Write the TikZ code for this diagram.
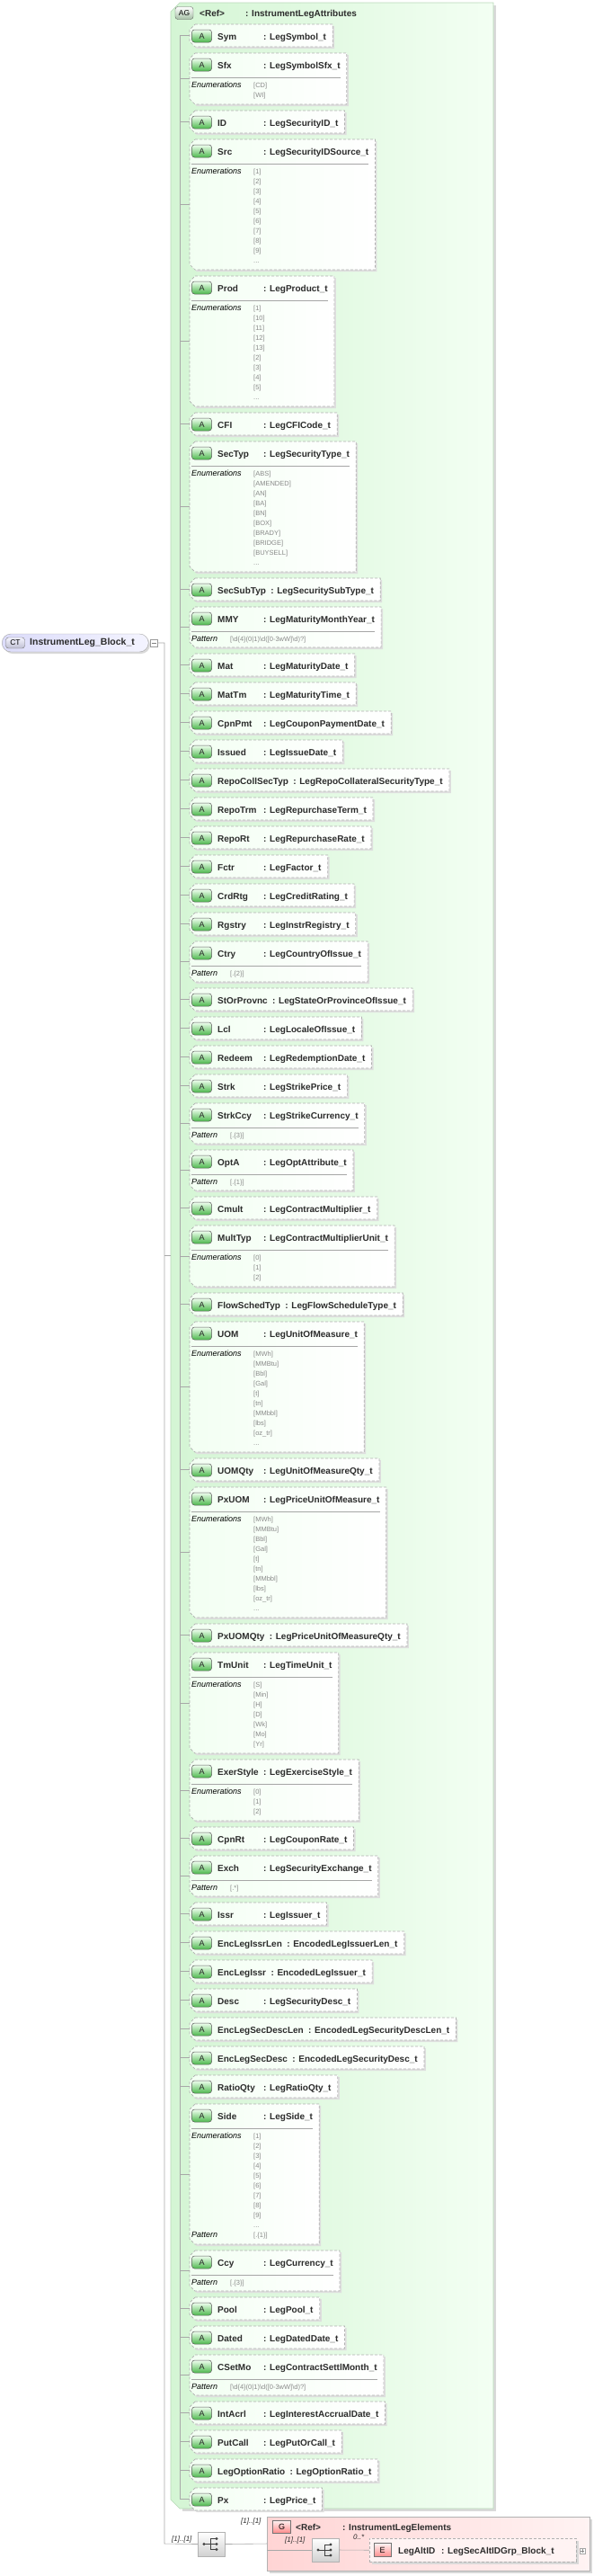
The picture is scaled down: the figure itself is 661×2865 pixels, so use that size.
\documentclass[tikz,border=0pt]{standalone}
\usepackage{fontspec}
\setmainfont{Liberation Sans}
\usetikzlibrary{calc,shadings}
\pgfdeclarelayer{grp}\pgfdeclarelayer{shad}\pgfdeclarelayer{boxl}
\pgfsetlayers{grp,shad,boxl,main}
\definecolor{txt}{HTML}{2B2B2B}
\definecolor{envc}{HTML}{8A8A8A}
\definecolor{lgray}{HTML}{A8A8A8}
\definecolor{dgray}{HTML}{B0B0B0}
\definecolor{grpl}{HTML}{D4F5D4}
\definecolor{grpr}{HTML}{F3FFF3}
\definecolor{grpb}{HTML}{B8D8B8}
\definecolor{redl}{HTML}{FFD4D4}
\definecolor{redr}{HTML}{FFF3F3}
\definecolor{ctl}{HTML}{DCDCFA}
\definecolor{ctr}{HTML}{F4F4FF}
\newcommand\nl{\\{}}
\newcommand\Y[1]{{-(#1)*1pt}}
\tikzset{
 nm/.style={font=\fontsize{10}{12}\selectfont\bfseries, text=txt, inner sep=0pt},
 enumv/.style={font=\fontsize{7.5}{11}\selectfont, text=envc, inner sep=0pt, align=left},
 lbl/.style={font=\fontsize{9}{11}\selectfont\itshape, text=black, inner sep=0pt},
 card/.style={font=\fontsize{8}{10}\selectfont\itshape, text=txt, inner sep=0pt},
 conn/.style={draw=lgray, line width=0.6pt},
 dbox/.style={draw=dgray, line width=0.7pt, dash pattern=on 3pt off 2pt, left color=green!5, right color=white},
 sbox/.style={fill=black!13, draw=none},
 aicon/.style={minimum width=22pt, minimum height=14pt, inner sep=0pt, rounded corners=3pt, draw=black!65, line width=0.5pt, top color=green!6, bottom color=green!60!black!70, font=\fontsize{9}{10}\selectfont, text=black!85},
 seqicon/.style={minimum width=30pt, minimum height=27pt, inner sep=0pt, draw=black!30, top color=white, bottom color=black!18},
}
\newcounter{ai}
\xdef\ty{27}
% #1 name #2 type #3 height #4 content #5 separator(1/0)
\newcommand\attrbox[5]{%
 \stepcounter{ai}\edef\id{a\arabic{ai}}%
 \pgfmathsetmacro\T{\ty}\pgfmathsetmacro\H{#3}%
 \node[nm,anchor=base west] (\id n) at (242pt,\Y{\T+17}) {#1};
 \path let \p1=(\id n.east) in node[nm,anchor=base west] (\id t) at ({max(\x1+5pt,293pt)},\Y{\T+17}) {: #2};
 #4%
 \path let \p1=(\id t.east), \p2=(\id c.east), \n1={max(\x1,\x2)+7pt} in coordinate (\id R) at (\n1,\Y{\T});
 \begin{pgfonlayer}{shad}
 \path let \p1=(\id R) in [sbox] (219pt,\Y{\T+2}) -- ({\x1+2pt},\Y{\T+2}) -- ({\x1+2pt},\Y{\T+\H+2}) -- (219pt,\Y{\T+\H+2}) -- (213pt,\Y{\T+\H-4}) -- (213pt,\Y{\T+8}) -- cycle;
 \end{pgfonlayer}
 \begin{pgfonlayer}{boxl}
 \path let \p1=(\id R) in [dbox] (217pt,\Y{\T}) -- (\x1,\Y{\T}) -- (\x1,\Y{\T+\H}) -- (217pt,\Y{\T+\H}) -- (211pt,\Y{\T+\H-6}) -- (211pt,\Y{\T+6}) -- cycle;
 \end{pgfonlayer}
 \ifnum#5=1
 \path let \p1=(\id R) in [draw=black!35, line width=0.6pt] (213pt,\Y{\T+27}) -- ({\x1-7pt},\Y{\T+27});
 \fi
 \node[aicon] (\id i) at (224.5pt,\Y{\T+13}) {A};
 \coordinate (\id L) at (211pt,\Y{\T+\H/2});
 \draw[conn] (\id L) -- ++(-11pt,0);
 \pgfmathsetmacro\nt{\T+\H+7}\xdef\ty{\nt}%
}
\newcommand\simple[2]{\attrbox{#1}{#2}{25}{\coordinate (\id c) at (\id t.east);}{0}}
\newcommand\enumb[4]{\attrbox{#1}{#2}{46+(#3-1)*11}{%
 \node[lbl,anchor=base west] at (213pt,\Y{\T+38}) {Enumerations};
 \node[enumv,anchor=north west] (\id c) at (282pt,\Y{\T+32.5}) {#4};}{1}}
\newcommand\patt[3]{\attrbox{#1}{#2}{45}{%
 \node[lbl,anchor=base west] at (213pt,\Y{\T+38}) {Pattern};
 \node[enumv,anchor=base west] (\id c) at (256pt,\Y{\T+38}) {#3};}{1}}
\newcommand\sidebox[3]{\attrbox{#1}{#2}{156}{%
 \node[lbl,anchor=base west] at (213pt,\Y{\T+38}) {Enumerations};
 \node[enumv,anchor=north west] (\id c) at (282pt,\Y{\T+32.5}) {#3};
 \node[lbl,anchor=base west] at (213pt,\Y{\T+148}) {Pattern};
 \node[enumv,anchor=base west] (\id p) at (282pt,\Y{\T+148}) {[.\{1\}]};}{1}}
\newcommand\seqsym[1]{%
 \fill[black!75] ($(#1)+(-8pt,0)$) circle (1.6pt);
 \draw[black!75, line width=0.8pt] ($(#1)+(-8pt,0)$) -- ($(#1)+(-1pt,0)$);
 \draw[black!75, line width=0.8pt] ($(#1)+(-1pt,6pt)$) -- ($(#1)+(-1pt,-6pt)$);
 \foreach \dy in {6,0,-6}{\draw[black!75, line width=0.8pt] ($(#1)+(-1pt,\dy pt)$) -- ($(#1)+(5pt,\dy pt)$);
 \fill[black!75] ($(#1)+(6pt,\dy pt)$) circle (1.6pt);}}
\newcommand\pmmy{[\textbackslash d\{4\}(0|1)\textbackslash d([0-3wW]\textbackslash d)?]}
\begin{document}
\begin{tikzpicture}[x=1pt,y=1pt]
\useasboundingbox (0,0) rectangle (661pt,-2865pt);
% attribute group
\begin{pgfonlayer}{grp}
\fill[black!15] (203pt,-6pt) -- (552pt,-6pt) -- (552pt,-2793pt) -- (203pt,-2793pt) -- cycle;
\path[draw=grpb, line width=0.6pt, left color=grpl, right color=grpr] (200pt,-3pt) -- (549pt,-3pt) -- (549pt,-2790pt) -- (200pt,-2790pt) -- (190pt,-2780pt) -- (190pt,-13pt) -- cycle;
\end{pgfonlayer}
\node[minimum width=20pt, minimum height=14pt, inner sep=0pt, rounded corners=3pt, draw=black!60, top color=white, bottom color=green!30!black!35, font=\fontsize{8.5}{10}\selectfont] (agi) at (205pt,-14.5pt) {AG};
\node[nm, anchor=base west] (agref) at (222pt,-18pt) {<Ref>};
\node[nm, anchor=base west] (agtype) at (273pt,-18pt) {: InstrumentLegAttributes};
\simple{Sym}{LegSymbol\_t}
\enumb{Sfx}{LegSymbolSfx\_t}{2}{[CD]\nl[WI]}
\simple{ID}{LegSecurityID\_t}
\enumb{Src}{LegSecurityIDSource\_t}{10}{[1]\nl[2]\nl[3]\nl[4]\nl[5]\nl[6]\nl[7]\nl[8]\nl[9]\nl...}
\enumb{Prod}{LegProduct\_t}{10}{[1]\nl[10]\nl[11]\nl[12]\nl[13]\nl[2]\nl[3]\nl[4]\nl[5]\nl...}
\simple{CFI}{LegCFICode\_t}
\enumb{SecTyp}{LegSecurityType\_t}{10}{[ABS]\nl[AMENDED]\nl[AN]\nl[BA]\nl[BN]\nl[BOX]\nl[BRADY]\nl[BRIDGE]\nl[BUYSELL]\nl...}
\simple{SecSubTyp}{LegSecuritySubType\_t}
\patt{MMY}{LegMaturityMonthYear\_t}{\pmmy}
\simple{Mat}{LegMaturityDate\_t}
\simple{MatTm}{LegMaturityTime\_t}
\simple{CpnPmt}{LegCouponPaymentDate\_t}
\simple{Issued}{LegIssueDate\_t}
\simple{RepoCollSecTyp}{LegRepoCollateralSecurityType\_t}
\simple{RepoTrm}{LegRepurchaseTerm\_t}
\simple{RepoRt}{LegRepurchaseRate\_t}
\simple{Fctr}{LegFactor\_t}
\simple{CrdRtg}{LegCreditRating\_t}
\simple{Rgstry}{LegInstrRegistry\_t}
\patt{Ctry}{LegCountryOfIssue\_t}{[.\{2\}]}
\simple{StOrProvnc}{LegStateOrProvinceOfIssue\_t}
\simple{Lcl}{LegLocaleOfIssue\_t}
\simple{Redeem}{LegRedemptionDate\_t}
\simple{Strk}{LegStrikePrice\_t}
\patt{StrkCcy}{LegStrikeCurrency\_t}{[.\{3\}]}
\patt{OptA}{LegOptAttribute\_t}{[.\{1\}]}
\simple{Cmult}{LegContractMultiplier\_t}
\enumb{MultTyp}{LegContractMultiplierUnit\_t}{3}{[0]\nl[1]\nl[2]}
\simple{FlowSchedTyp}{LegFlowScheduleType\_t}
\enumb{UOM}{LegUnitOfMeasure\_t}{10}{[MWh]\nl[MMBtu]\nl[Bbl]\nl[Gal]\nl[t]\nl[tn]\nl[MMbbl]\nl[lbs]\nl[oz\_tr]\nl...}
\simple{UOMQty}{LegUnitOfMeasureQty\_t}
\enumb{PxUOM}{LegPriceUnitOfMeasure\_t}{10}{[MWh]\nl[MMBtu]\nl[Bbl]\nl[Gal]\nl[t]\nl[tn]\nl[MMbbl]\nl[lbs]\nl[oz\_tr]\nl...}
\simple{PxUOMQty}{LegPriceUnitOfMeasureQty\_t}
\enumb{TmUnit}{LegTimeUnit\_t}{7}{[S]\nl[Min]\nl[H]\nl[D]\nl[Wk]\nl[Mo]\nl[Yr]}
\enumb{ExerStyle}{LegExerciseStyle\_t}{3}{[0]\nl[1]\nl[2]}
\simple{CpnRt}{LegCouponRate\_t}
\patt{Exch}{LegSecurityExchange\_t}{[.*]}
\simple{Issr}{LegIssuer\_t}
\simple{EncLegIssrLen}{EncodedLegIssuerLen\_t}
\simple{EncLegIssr}{EncodedLegIssuer\_t}
\simple{Desc}{LegSecurityDesc\_t}
\simple{EncLegSecDescLen}{EncodedLegSecurityDescLen\_t}
\simple{EncLegSecDesc}{EncodedLegSecurityDesc\_t}
\simple{RatioQty}{LegRatioQty\_t}
\sidebox{Side}{LegSide\_t}{[1]\nl[2]\nl[3]\nl[4]\nl[5]\nl[6]\nl[7]\nl[8]\nl[9]\nl...}
\patt{Ccy}{LegCurrency\_t}{[.\{3\}]}
\simple{Pool}{LegPool\_t}
\simple{Dated}{LegDatedDate\_t}
\patt{CSetMo}{LegContractSettlMonth\_t}{\pmmy}
\simple{IntAcrl}{LegInterestAccrualDate\_t}
\simple{PutCall}{LegPutOrCall\_t}
\simple{LegOptionRatio}{LegOptionRatio\_t}
\simple{Px}{LegPrice\_t}
% spine of attributes
\draw[conn] ($(a1L)+(-11pt,0)$) -- ($(a53L)+(-11pt,0)$);
% root complex type
\begin{pgfonlayer}{shad}
\fill[black!15, rounded corners=10pt] (4pt,-707pt) rectangle (167pt,-727pt);
\end{pgfonlayer}
\node[minimum width=163pt, minimum height=20pt, inner sep=0pt, rounded corners=10pt, draw=black!35, left color=ctl, right color=ctr, anchor=west] (ct) at (2pt,-715pt) {};
\node[minimum width=21pt, minimum height=12pt, inner sep=0pt, rounded corners=3pt, draw=black!55, top color=ctr, bottom color=blue!30!black!25, font=\fontsize{8.5}{9}\selectfont] (cti) at (17pt,-715pt) {CT};
\node[nm, anchor=west, font=\fontsize{10.5}{12}\selectfont\bfseries] (ctn) at (33pt,-715pt) {InstrumentLeg\_Block\_t};
\node[minimum width=8pt, minimum height=8pt, inner sep=0pt, draw=black!40, fill=white] (ctx) at (171pt,-715pt) {};
\draw[black!50, line width=0.5pt] ($(ctx)+(-2.5pt,0)$) -- ($(ctx)+(2.5pt,0)$);
\coordinate (jtop) at (183pt,-715pt);
\coordinate (jmid) at (183pt,-1396pt);
\coordinate (jbot) at (183pt,-2829pt);
\coordinate (gl) at (190pt,-1396pt);
\node[seqicon] (seq) at (235pt,-2829.5pt) {};
\seqsym{seq}
\draw[conn] (ctx.east) -- (jtop) -- (jbot) -- (seq.west);
\draw[conn] (jmid) -- (gl);
\node[card, anchor=base west] (c1) at (191pt,-2826pt) {[1]..[1]};
% element group
\begin{pgfonlayer}{shad}
\fill[black!15] (300pt,-2802pt) rectangle (659pt,-2862pt);
\end{pgfonlayer}
\begin{pgfonlayer}{boxl}
\path[draw=black!30, line width=0.6pt, left color=redl, right color=redr] (297pt,-2799pt) rectangle (656pt,-2859pt);
\end{pgfonlayer}
\coordinate (redL) at (297pt,-2829pt);
\coordinate (redL2) at (297pt,-2836pt);
\draw[conn] (seq.east) -- (redL);
\node[card, anchor=base west] (c2) at (268pt,-2806pt) {[1]..[1]};
\node[minimum width=20pt, minimum height=14pt, inner sep=0pt, draw=black!55, top color=redr, bottom color=red!45, font=\fontsize{9}{10}\selectfont] (gi) at (313.5pt,-2810pt) {G};
\node[nm, anchor=base west] (gref) at (329pt,-2814pt) {<Ref>};
\node[nm, anchor=base west] (gtype) at (381pt,-2814pt) {: InstrumentLegElements};
\node[seqicon, minimum height=26pt] (seq2) at (362pt,-2836pt) {};
\seqsym{seq2}
\draw[conn] (redL2) -- (seq2.west);
\node[card, anchor=base west] (c3) at (317pt,-2827pt) {[1]..[1]};
\fill[black!15] (414pt,-2826pt) rectangle (644pt,-2852pt);
\node[minimum width=230pt, minimum height=26pt, inner sep=0pt, draw=dgray, dash pattern=on 3pt off 2pt, fill=redr, anchor=north west] (eb) at (411pt,-2823pt) {};
\draw[conn] (seq2.east) -- (eb.west);
\node[card, anchor=base west] (c4) at (393pt,-2824pt) {0..*};
\node[minimum width=19pt, minimum height=15pt, inner sep=0pt, draw=black!55, top color=redr, bottom color=red!45, font=\fontsize{9}{10}\selectfont] (ei) at (425.5pt,-2836pt) {E};
\node[nm, anchor=base west] (en) at (443pt,-2840pt) {LegAltID};
\node[nm, anchor=base west] (et) at (491pt,-2840pt) {: LegSecAltIDGrp\_Block\_t};
\node[minimum width=6pt, minimum height=6pt, inner sep=0pt, draw=black!35, fill=white] (ex) at (648pt,-2837pt) {};
\draw[black!45, line width=0.4pt] ($(ex)+(-2pt,0)$) -- ($(ex)+(2pt,0)$) ($(ex)+(0,-2pt)$) -- ($(ex)+(0,2pt)$);
\end{tikzpicture}
\end{document}
